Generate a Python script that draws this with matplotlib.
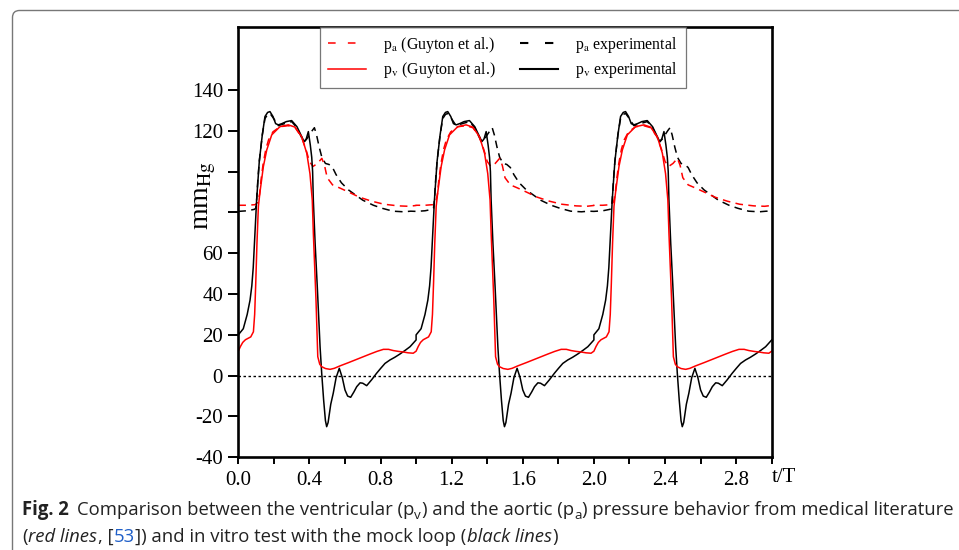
import numpy as np
import matplotlib.pyplot as plt
from matplotlib.lines import Line2D
from matplotlib.patches import PathPatch
from matplotlib.path import Path
from matplotlib.transforms import IdentityTransform

plt.rcParams['font.family'] = ['Liberation Serif', 'DejaVu Serif']
plt.rcParams['mathtext.fontset'] = 'stix'

# one heart cycle (t/T in [0, 1]); repeated for 3 cycles
n_cycles = 3

# p_a (Guyton et al.) - red dashed
t_pa_guy = [0.0, 0.05, 0.095, 0.11, 0.12, 0.128, 0.14, 0.155, 0.17, 0.195, 0.235, 0.28,
            0.32, 0.355, 0.38, 0.40, 0.42, 0.445, 0.47, 0.485, 0.50, 0.53, 0.57, 0.62,
            0.68, 0.75, 0.82, 0.90, 0.96, 1.0]
pa_guy = [83.5, 83.5, 83.8, 85, 89, 96, 104, 111, 115.5, 119.5, 122, 122.5,
          121.5, 117, 111, 105, 102.5, 104, 106.5, 103, 97, 93.5, 92, 90,
          87.5, 85.5, 84, 83.2, 83, 83.4]

# p_v (Guyton et al.) - red solid
t_pv_guy = [0.0, 0.012, 0.025, 0.04, 0.07, 0.085, 0.092, 0.098, 0.105, 0.113, 0.122, 0.141,
            0.16, 0.188, 0.234, 0.281, 0.319, 0.357, 0.385, 0.403, 0.416, 0.422,
            0.437, 0.447, 0.458, 0.469, 0.49, 0.516, 0.54, 0.572, 0.62, 0.666, 0.70,
            0.741, 0.78, 0.816, 0.845, 0.872, 0.90, 0.928, 0.955, 0.984, 1.0]
pv_guy = [12.0, 14.3, 16.3, 17.6, 19.0, 21.5, 30, 45, 65, 83, 90, 102.5,
          110.6, 118, 122, 122.9, 121.8, 117, 109, 99, 86, 70,
          37, 9.3, 5.6, 4.4, 3.5, 3.1, 3.6, 4.8, 6.4, 8.0, 9.2,
          10.6, 11.9, 12.9, 12.9, 12.3, 11.9, 11.6, 11.2, 11.0, 12.0]

# p_a experimental - black dashed
t_pa_exp = [0.0, 0.05, 0.09, 0.098, 0.103, 0.11, 0.118, 0.135, 0.15, 0.165, 0.178,
            0.195, 0.225, 0.26, 0.30, 0.33, 0.357, 0.37, 0.385, 0.40, 0.415, 0.428,
            0.44, 0.455, 0.47, 0.49, 0.51, 0.53, 0.55, 0.58, 0.62, 0.66, 0.70, 0.76,
            0.81, 0.87, 0.93, 0.97, 1.0]
pa_exp = [80.5, 80.8, 81.5, 82, 86, 96, 105, 118, 126, 128, 128.5,
          126.5, 122.5, 123.5, 124.5, 121.5, 116.5, 114.5, 116, 118, 120, 121.5,
          118, 112, 107, 104, 103.5, 102, 98.5, 94.5, 91, 88.5, 86, 83.5,
          82, 80.6, 80.3, 80.6, 80.5]

# p_v experimental - black solid
t_pv_exp = [0.0, 0.028, 0.05, 0.066, 0.076, 0.084, 0.094, 0.103, 0.118, 0.135, 0.15,
            0.165, 0.178, 0.195, 0.21, 0.225, 0.245, 0.27, 0.30, 0.33, 0.357, 0.370,
            0.382, 0.394, 0.405, 0.413, 0.418, 0.422, 0.432, 0.444, 0.46, 0.469,
            0.48, 0.49, 0.497, 0.505, 0.52, 0.534, 0.55, 0.568, 0.585, 0.600, 0.615,
            0.632, 0.65, 0.666, 0.685, 0.70, 0.722, 0.75, 0.778, 0.80, 0.825, 0.853,
            0.88, 0.909, 0.94, 0.966, 0.985, 1.0]
pv_exp = [20.0, 23, 30, 37, 44, 53, 70, 86, 105, 118, 127,
          129, 129.4, 127, 123.5, 122.9, 123.5, 124.5, 125, 122, 117, 114.7,
          116, 119.6, 113, 107, 100, 86, 65, 44, 14, 1.3,
          -12, -22, -25, -23, -14, -8.6, -1, 3.6, -1, -7, -10,
          -10.6, -8, -5.4, -3.5, -3.7, -4.9, -2, 1.2, 3.5, 6, 7.7,
          9, 10.6, 12.5, 14.2, 16, 17.5]

x_ticks = [0.0, 0.4, 0.8, 1.2, 1.6, 2.0, 2.4, 2.8]
y_ticks = [-40, -20, 0, 20, 40, 60, 80, 100, 120, 140]
y_labels = ['-40', '-20', '0', '20', '40', '60', '', '', '120', '140']

legend_labels = [r'p$_{\mathrm{a}}$ (Guyton et al.)', r'p$_{\mathrm{v}}$ (Guyton et al.)',
                 r'p$_{\mathrm{a}}$ experimental', r'p$_{\mathrm{v}}$ experimental']

W, H = 959, 550
fig = plt.figure(figsize=(W / 100, H / 100), dpi=100)
ax = fig.add_axes([238.3 / W, 1 - 457.3 / H, 533.4 / W, 430.6 / H])


def tile(t, v):
    tt = np.concatenate([np.asarray(t) + k for k in range(n_cycles)])
    vv = np.concatenate([np.asarray(v) for k in range(n_cycles)])
    return tt, vv


dash = (0, (5, 3.5))
ax.axhline(0, color='k', lw=1.0, ls=(0, (1.8, 1.8)))
ax.plot(*tile(t_pa_exp, pa_exp), color='k', lw=1.1, ls=dash)
ax.plot(*tile(t_pa_guy, pa_guy), color='#ff0000', lw=1.1, ls=dash)
ax.plot(*tile(t_pv_exp, pv_exp), color='k', lw=1.1)
ax.plot(*tile(t_pv_guy, pv_guy), color='#ff0000', lw=1.1)

ax.set_xlim(0, 3.0)
ax.set_ylim(-40, 171)
ax.set_xticks(x_ticks)
ax.set_xticklabels(['%.1f' % v for v in x_ticks])
ax.set_xticks(np.arange(0, 3.01, 0.2), minor=True)
ax.set_yticks(y_ticks)
ax.set_yticklabels(y_labels)
ax.tick_params(axis='both', which='both', direction='out', width=1.4, labelsize=15)
ax.tick_params(axis='y', length=7, pad=4)
ax.tick_params(axis='x', which='both', length=5, pad=5)
for s in ax.spines.values():
    s.set_linewidth(1.9)

handles = [Line2D([], [], color='#ff0000', lw=1.1, ls=(0, (5, 8))),
           Line2D([], [], color='#ff0000', lw=1.1),
           Line2D([], [], color='k', lw=1.5, ls=(0, (4, 8))),
           Line2D([], [], color='k', lw=1.5)]
leg = ax.legend(handles, legend_labels, ncol=2, loc='upper left',
                bbox_to_anchor=(320 / W, 1 - 27 / H), bbox_transform=fig.transFigure,
                fontsize=11.4, frameon=True, fancybox=False, borderaxespad=0,
                handlelength=2.4, handletextpad=1.1, columnspacing=1.5,
                labelspacing=0.35, borderpad=0.5)
leg.get_frame().set_edgecolor('#555555')
leg.get_frame().set_linewidth(0.9)

fig.text(206 / W, 1 - 196 / H, r'mm$_{\mathrm{Hg}}$', rotation=90, ha='center', va='center',
         fontsize=20)
fig.text(784 / W, 1 - 478 / H, 't/T', ha='center', va='center', fontsize=15)

# frame around figure + caption (open to the right and bottom)
r = 7
x0, ytop = 12.5, H - 10.5
frame_path = Path([(x0, -5), (x0, ytop - r), (x0, ytop), (x0 + r, ytop), (W + 5, ytop)],
                  [Path.MOVETO, Path.LINETO, Path.CURVE3, Path.CURVE3, Path.LINETO])
fig.add_artist(PathPatch(frame_path, transform=IdentityTransform(), fill=False,
                         ec='#777777', lw=1.0))

cap_fonts = ['Open Sans', 'DejaVu Sans']
line1 = [('Fig. 2', {'weight': 'bold'}, 0),
         ('Comparison between the ventricular (p', {}, 1.5),
         ('v', {'sub': True}, 0),
         (') and the aortic (p', {}, 0),
         ('a', {'sub': True}, 0),
         (') pressure behavior from medical literature', {}, 0)]
line2 = [('(', {}, 0),
         ('red lines', {'style': 'italic'}, 0),
         (', [', {}, 0),
         ('53', {'color': '#1f5fc8'}, 0),
         (']) and in vitro test with the mock loop (', {}, 0),
         ('black lines', {'style': 'italic'}, 0),
         (')', {}, 0)]

renderer = fig.canvas.get_renderer()


def draw_runs(x0, y0, runs, size):
    x = x0
    arts = []
    for txt, kw, gap in runs:
        kw = dict(kw)
        sub = kw.pop('sub', False)
        fs = size * (0.72 if sub else 1.0)
        y = y0 - (size * 0.22 * 100 / 72 if sub else 0)
        x += gap * 0.26 * size * 100 / 72
        t = fig.text(x, y, txt, transform=IdentityTransform(), fontsize=fs,
                     family=cap_fonts, va='baseline', ha='left', color=kw.pop('color', '#222222'),
                     **kw)
        arts.append(t)
        x = t.get_window_extent(renderer=renderer).x1 + 0.5
    return x, arts


size0 = 12
x_end, arts = draw_runs(22, H - 515, line1, size0)
for a in arts:
    a.remove()
size = size0 * (950 - 22) / (x_end - 22)
draw_runs(22, H - 515, line1, size)
draw_runs(22, H - 542, line2, size)

fig.savefig('out.png', dpi=100)
